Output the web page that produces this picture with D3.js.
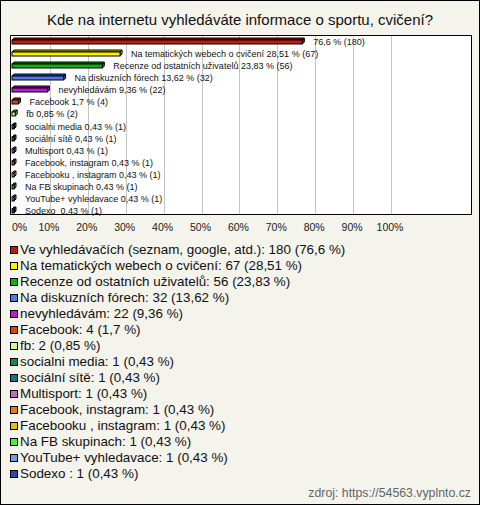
<!DOCTYPE html>
<html><head><meta charset="utf-8">
<script src="https://cdn.jsdelivr.net/npm/d3@7"></script>
<style>html,body{margin:0;padding:0;background:#f4f3ec;}svg{display:block;}text{white-space:pre;}</style>
</head><body>
<script>
const title = "Kde na internetu vyhledáváte informace o sportu, cvičení?";
const categories = [
  "Ve vyhledávačích (seznam, google, atd.)",
  "Na tematických webech o cvičení",
  "Recenze od ostatních uživatelů",
  "Na diskuzních fórech",
  "nevyhledávám",
  "Facebook",
  "fb",
  "socialni media",
  "sociální sítě",
  "Multisport",
  "Facebook, instagram",
  "Facebooku , instagram",
  "Na FB skupinach",
  "YouTube+ vyhledavace",
  "Sodexo "
];
const barNames = [
  "", "Na tematických webech o cvičení", "Recenze od ostatních uživatelů",
  "Na diskuzních fórech", "nevyhledávám", "Facebook", "fb", "socialni media",
  "sociální sítě", "Multisport", "Facebook, instagram", "Facebooku , instagram",
  "Na FB skupinach", "YouTube+ vyhledavace", "Sodexo "
];
const counts = [180, 67, 56, 32, 22, 4, 2, 1, 1, 1, 1, 1, 1, 1, 1];
const percents = [76.6, 28.51, 23.83, 13.62, 9.36, 1.7, 0.85, 0.43, 0.43, 0.43, 0.43, 0.43, 0.43, 0.43, 0.43];
const colors = ["#c01c0c", "#ffee00", "#12b012", "#4a7af0", "#b81ccc", "#e0420c", "#ccff88",
  "#128a56", "#12788c", "#cc66cc", "#ee7711", "#eebb11", "#44ee44", "#6e9cee", "#2a4aac"];
const tickValues = [0, 10, 20, 30, 40, 50, 60, 70, 80, 90, 100];
const source = "zdroj: https://54563.vyplnto.cz";

const W = 480, H = 505;
const fmt = v => String(v).replace(".", ",");
const svg = d3.select("body").append("svg").attr("width", W).attr("height", H)
  .style("font-family", "'Liberation Sans', Arial, sans-serif");

svg.append("rect").attr("x", 0.5).attr("y", 0.5).attr("width", W - 1).attr("height", H - 1)
  .attr("fill", "#f4f3ec").attr("stroke", "#000");

svg.append("text").attr("x", 240).attr("y", 25).attr("text-anchor", "middle")
  .attr("font-size", 15).attr("fill", "#111").text(title);

// plot area
const plot = {x0: 10, y0: 35, x1: 471, y1: 214};
svg.append("rect").attr("x", plot.x0 + 0.5).attr("y", plot.y0 + 0.5)
  .attr("width", plot.x1 - plot.x0).attr("height", plot.y1 - plot.y0)
  .attr("fill", "#fff").attr("stroke", "#000");

const x = d3.scaleLinear().domain([0, 100]).range([12, 391]);
const y = d3.scalePoint().domain(d3.range(categories.length)).range([41, 210]);

svg.append("g").selectAll("line").data(tickValues.filter(v => v > 0)).join("line")
  .attr("x1", d => Math.round(x(d)) + 0.5).attr("x2", d => Math.round(x(d)) + 0.5)
  .attr("y1", plot.y0 + 1).attr("y2", plot.y1)
  .attr("stroke", "#c4c4c4");

svg.append("g").selectAll("text").data(tickValues).join("text")
  .attr("x", d => d === 0 ? 12 : x(d) - 1)
  .attr("text-anchor", d => d === 0 ? "start" : "middle")
  .attr("y", 231).attr("font-size", 10.5).attr("fill", "#222")
  .text(d => d + "%");

// bars (3D-like)
const bars = svg.append("g");
percents.forEach((p, i) => {
  const cy = Math.round(y(i));
  const x0 = x(0), x1 = Math.max(x(p), x0 + 2);
  const c = colors[i];
  const dark = d3.color(c).darker(0.8).formatHex();
  const d = 2;
  bars.append("path")
    .attr("d", `M${x1},${cy - 1}L${x1 + d},${cy - 3}L${x1 + d},${cy + 1}L${x1},${cy + 3}Z`)
    .attr("fill", dark).attr("stroke", "#000").attr("stroke-width", 1);
  bars.append("path")
    .attr("d", `M${x0},${cy - 1}L${x0 + d},${cy - 3}L${x1 + d},${cy - 3}L${x1},${cy - 1}Z`)
    .attr("fill", dark).attr("stroke", "#000").attr("stroke-width", 1);
  bars.append("rect").attr("x", x0).attr("y", cy - 1).attr("width", x1 - x0).attr("height", 4)
    .attr("fill", c).attr("stroke", "#000").attr("stroke-width", 1);
  bars.append("text").attr("x", x1 + 11).attr("y", cy + 3.5)
    .attr("font-size", 9).attr("fill", "#111")
    .text((barNames[i] ? barNames[i] + " " : "") + fmt(p) + " % (" + counts[i] + ")");
});

// legend
const leg = svg.append("g");
categories.forEach((cat, i) => {
  const by = 254 + i * 16;
  leg.append("rect").attr("x", 10.5).attr("y", by - 7.5).attr("width", 7).attr("height", 7)
    .attr("fill", colors[i]).attr("stroke", "#000");
  leg.append("text").attr("x", 20).attr("y", by).attr("font-size", 13.4).attr("fill", "#111")
    .text(cat + ": " + counts[i] + " (" + fmt(percents[i]) + " %)");
});

svg.append("text").attr("x", 471).attr("y", 497).attr("text-anchor", "end")
  .attr("font-size", 12.3).attr("fill", "#666").text(source);
</script>
</body></html>
